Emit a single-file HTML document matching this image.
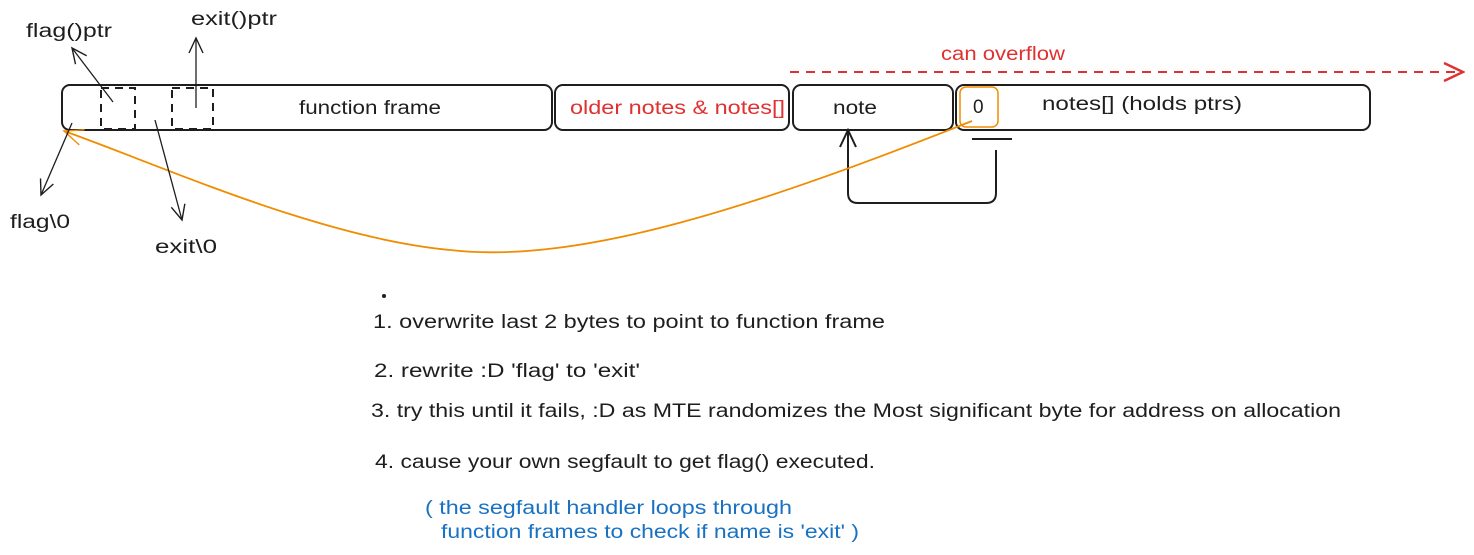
<!DOCTYPE html>
<html><head><meta charset="utf-8"><style>
html,body{margin:0;padding:0;background:#fff;}
svg{display:block;}
text{font-family:"Liberation Sans",sans-serif;font-size:19px;fill:#1e1e1e;}
</style></head><body>
<svg width="1474" height="555" viewBox="0 0 1474 555" xmlns="http://www.w3.org/2000/svg">
<defs>
<marker id="ab" markerWidth="18" markerHeight="18" refX="16" refY="9" orient="auto" markerUnits="userSpaceOnUse">
<path d="M1,2 L16,9 L1,16" fill="none" stroke="#1e1e1e" stroke-width="1.4"/></marker>
<marker id="ao" markerWidth="22" markerHeight="18" refX="20" refY="9" orient="auto" markerUnits="userSpaceOnUse">
<path d="M1,1 L20,9 L1,17" fill="none" stroke="#f08c00" stroke-width="1.4"/></marker>
<marker id="ar" markerWidth="22" markerHeight="20" refX="20" refY="10" orient="auto" markerUnits="userSpaceOnUse">
<path d="M1,1 L20,10 L1,19" fill="none" stroke="#e03131" stroke-width="2.5"/></marker>
<marker id="ab2" markerWidth="20" markerHeight="20" refX="18" refY="10" orient="auto" markerUnits="userSpaceOnUse">
<path d="M1,2 L18,10 L1,18" fill="none" stroke="#1e1e1e" stroke-width="2"/></marker>
</defs>
<g fill="none" stroke="#1e1e1e" stroke-width="2">
<rect x="62" y="85" width="490" height="45" rx="8"/>
<rect x="555" y="85" width="234" height="45" rx="8"/>
<rect x="793" y="85" width="160" height="45" rx="8"/>
<rect x="956" y="85" width="414" height="45" rx="8"/>
<rect x="101" y="88" width="34" height="41" stroke-dasharray="8 6"/>
<rect x="172" y="88" width="41" height="41" stroke-dasharray="8 6"/>
<line x1="972" y1="139" x2="1012" y2="139"/>
<path d="M996,150 L996,193 Q996,203 986,203 L858,203 Q848,203 848,193 L848,130" marker-end="url(#ab2)"/>
</g>
<rect x="960" y="87" width="38" height="40" rx="6" fill="none" stroke="#f08c00" stroke-width="1.5"/>
<line x1="790" y1="72" x2="1463" y2="72" stroke="#e03131" stroke-width="2" stroke-dasharray="9 7" marker-end="url(#ar)"/>
<path d="M972,121 C760,205 580,265 450,250 C320,238 160,165 64,131" fill="none" stroke="#f08c00" stroke-width="1.8" marker-end="url(#ao)"/>
<g stroke="#1e1e1e" stroke-width="1.3" fill="none">
<line x1="113" y1="102" x2="72" y2="48" marker-end="url(#ab)"/>
<line x1="196" y1="108" x2="196" y2="38" marker-end="url(#ab)"/>
<line x1="72" y1="123" x2="41" y2="195" marker-end="url(#ab)"/>
<line x1="155" y1="120" x2="182" y2="220" marker-end="url(#ab)"/>
</g>
<circle cx="384" cy="296" r="2" fill="#1e1e1e"/>
<text x="26" y="37" textLength="86" lengthAdjust="spacingAndGlyphs">flag()ptr</text>
<text x="191" y="25" textLength="86" lengthAdjust="spacingAndGlyphs">exit()ptr</text>
<text x="10" y="228" textLength="60" lengthAdjust="spacingAndGlyphs">flag\0</text>
<text x="155" y="253" textLength="62" lengthAdjust="spacingAndGlyphs">exit\0</text>
<text x="299" y="114" textLength="142" lengthAdjust="spacingAndGlyphs">function frame</text>
<text x="570" y="114" textLength="215" lengthAdjust="spacingAndGlyphs" style="fill:#e03131">older notes &amp; notes[]</text>
<text x="833" y="114" textLength="44" lengthAdjust="spacingAndGlyphs">note</text>
<text x="973" y="113">0</text>
<text x="1042" y="110" textLength="200" lengthAdjust="spacingAndGlyphs">notes[] (holds ptrs)</text>
<text x="941" y="60" textLength="124" lengthAdjust="spacingAndGlyphs" style="fill:#e03131">can overflow</text>
<text x="373" y="328" textLength="512" lengthAdjust="spacingAndGlyphs">1. overwrite last 2 bytes to point to function frame</text>
<text x="374" y="377" textLength="266" lengthAdjust="spacingAndGlyphs">2. rewrite :D 'flag' to 'exit'</text>
<text x="371" y="417" textLength="970" lengthAdjust="spacingAndGlyphs">3. try this until it fails, :D as MTE randomizes the Most significant byte for address on allocation</text>
<text x="375" y="468" textLength="500" lengthAdjust="spacingAndGlyphs">4. cause your own segfault to get flag() executed.</text>
<text x="425" y="514" textLength="367" lengthAdjust="spacingAndGlyphs" style="fill:#1971c2">( the segfault handler loops through</text>
<text x="441" y="538" textLength="418" lengthAdjust="spacingAndGlyphs" style="fill:#1971c2">function frames to check if name is 'exit' )</text>
</svg>
</body></html>
